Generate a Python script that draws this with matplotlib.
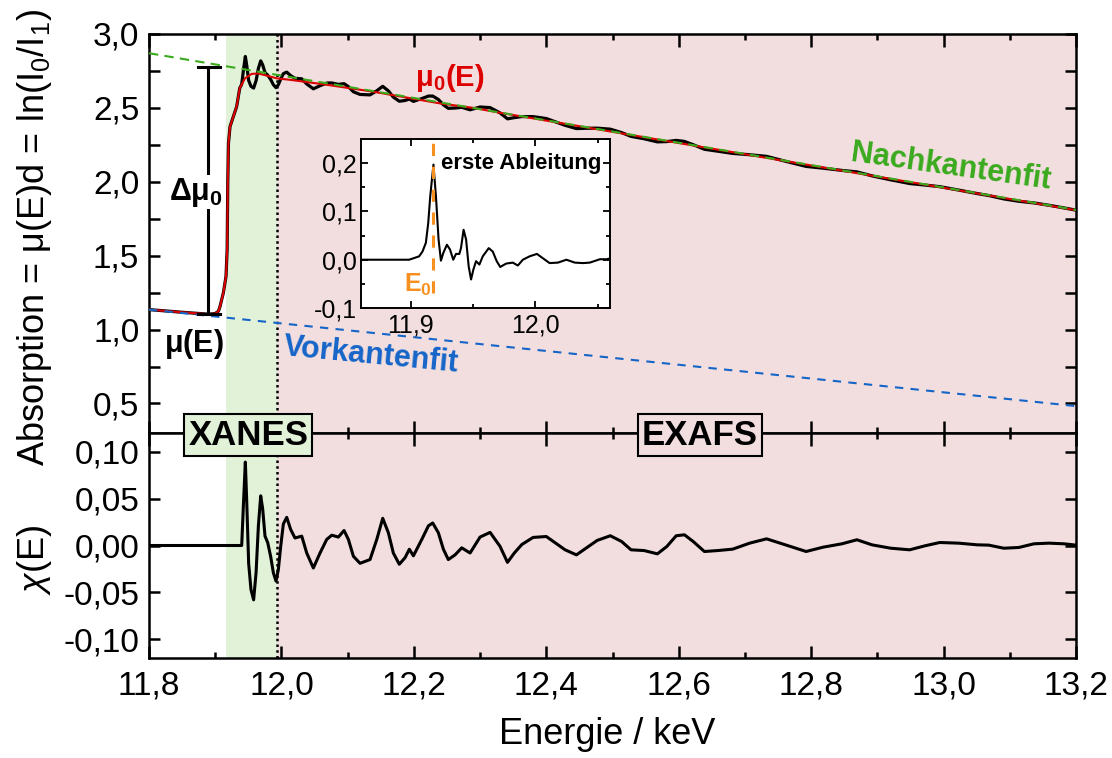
import numpy as np
import matplotlib
matplotlib.use("Agg")
import matplotlib.pyplot as plt
import matplotlib.transforms as mtransforms
from matplotlib.ticker import MultipleLocator, FuncFormatter

# ---------------- data ----------------
# measured absorption mu(E)
mu_energy = [11.80, 11.85, 11.89, 11.90, 11.905, 11.9073, 11.9123, 11.9163, 11.918, 11.919,
             11.920, 11.9224, 11.9324, 11.937, 11.940, 11.9425, 11.9455, 11.9475, 11.9505, 11.954,
             11.958, 11.9617, 11.9652, 11.9687, 11.9717, 11.9752, 11.9793, 11.9838, 11.9878, 11.9918,
             11.9953, 11.9989, 12.0029, 12.008, 12.014, 12.0205, 12.0307, 12.0382, 12.0482, 12.0583,
             12.0684, 12.076, 12.086, 12.0946, 12.1011, 12.1087, 12.1187, 12.1338, 12.144, 12.153,
             12.1615, 12.169, 12.178, 12.1867, 12.1932, 12.1993, 12.212, 12.222, 12.2285, 12.237,
             12.2446, 12.252, 12.2622, 12.2723, 12.2849, 12.300, 12.3151, 12.3302, 12.3414, 12.3517,
             12.363, 12.380, 12.400, 12.4142, 12.4284, 12.4455, 12.4597, 12.4768, 12.4967, 12.5137,
             12.528, 12.5478, 12.5678, 12.582, 12.5962, 12.6087, 12.6218, 12.6388, 12.6587, 12.6815,
             12.7071, 12.7327, 12.7611, 12.7924, 12.818, 12.8464, 12.8691, 12.8919, 12.9203, 12.9488,
             12.9715, 12.9943, 13.0227, 13.0511, 13.0682, 13.091, 13.1137, 13.1364, 13.1592, 13.182,
             13.200]
mu_abs = [1.135, 1.117, 1.104, 1.108, 1.125, 1.157, 1.248, 1.36, 1.54, 2.0,
          2.26, 2.374, 2.509, 2.633, 2.66, 2.751, 2.848, 2.790, 2.686, 2.646,
          2.634, 2.684, 2.767, 2.818, 2.791, 2.739, 2.721, 2.692, 2.657, 2.637,
          2.656, 2.695, 2.732, 2.742, 2.718, 2.70, 2.697, 2.662, 2.629, 2.65,
          2.668, 2.669, 2.659, 2.664, 2.644, 2.609, 2.591, 2.588, 2.616, 2.646,
          2.615, 2.573, 2.545, 2.55, 2.56, 2.544, 2.563, 2.58, 2.58, 2.557,
          2.521, 2.497, 2.499, 2.504, 2.487, 2.506, 2.502, 2.466, 2.426, 2.434,
          2.441, 2.441, 2.428, 2.405, 2.382, 2.360, 2.362, 2.363, 2.356, 2.333,
          2.307, 2.291, 2.270, 2.272, 2.280, 2.273, 2.251, 2.220, 2.207, 2.192,
          2.183, 2.172, 2.139, 2.104, 2.092, 2.077, 2.067, 2.040, 2.013, 1.988,
          1.978, 1.967, 1.944, 1.920, 1.907, 1.884, 1.868, 1.857, 1.841, 1.823,
          1.808]

# smooth atomic background mu0(E)
mu0_energy = [11.80, 11.85, 11.89, 11.90, 11.905, 11.9073, 11.9123, 11.9163, 11.918, 11.919,
              11.920, 11.9224, 11.9324, 11.937, 11.945, 11.955, 11.965, 11.978, 11.993, 12.013,
              12.063, 12.138, 12.189, 12.24, 12.29, 12.33, 12.6, 12.9, 13.2]
mu0_abs = [1.135, 1.117, 1.104, 1.108, 1.125, 1.157, 1.248, 1.36, 1.54, 2.0,
           2.26, 2.374, 2.509, 2.633, 2.70, 2.73, 2.733, 2.718, 2.70, 2.69,
           2.66, 2.61, 2.57, 2.53, 2.50, 2.467, 2.262, 2.035, 1.808]

# pre-edge and post-edge line fits
pre_edge_energy = [11.8, 13.2]
pre_edge_abs = [1.135, 0.482]
post_edge_energy = [11.8, 13.2]
post_edge_abs = [2.87, 1.81]

# EXAFS oscillations chi(E)
chi_energy = [11.80, 11.940, 11.9425, 11.9455, 11.9475, 11.9505, 11.954, 11.958, 11.9617, 11.9652,
              11.9687, 11.9717, 11.9752, 11.9793, 11.9838, 11.9878, 11.9918, 11.9953, 11.9989, 12.0029,
              12.008, 12.014, 12.0205, 12.0307, 12.0382, 12.0482, 12.0583, 12.0684, 12.076, 12.086,
              12.0946, 12.1011, 12.1087, 12.1187, 12.1338, 12.144, 12.153, 12.1615, 12.169, 12.178,
              12.1867, 12.1932, 12.1993, 12.212, 12.222, 12.2285, 12.237, 12.2446, 12.252, 12.2622,
              12.2723, 12.2849, 12.300, 12.3151, 12.3302, 12.3414, 12.3517, 12.363, 12.380, 12.400,
              12.4142, 12.4284, 12.4455, 12.4597, 12.4768, 12.4967, 12.5137, 12.528, 12.5478, 12.5678,
              12.582, 12.5962, 12.6087, 12.6218, 12.6388, 12.6587, 12.6815, 12.7071, 12.7327, 12.7611,
              12.7924, 12.818, 12.8464, 12.8691, 12.8919, 12.9203, 12.9488, 12.9715, 12.9943, 13.0227,
              13.0511, 13.0682, 13.091, 13.1137, 13.1364, 13.1592, 13.182, 13.200]
chi_values = [0.0, 0.0, 0.042, 0.089, 0.049, -0.019, -0.047, -0.058, -0.029, 0.021,
              0.053, 0.039, 0.010, 0.003, -0.012, -0.029, -0.038, -0.026, -0.001, 0.023,
              0.030, 0.017, 0.008, 0.010, -0.008, -0.024, -0.008, 0.0065, 0.011, 0.009,
              0.016, 0.0065, -0.0115, -0.019, -0.015, 0.0065, 0.029, 0.0136, -0.008, -0.020,
              -0.013, -0.004, -0.011, 0.0065, 0.021, 0.024, 0.0136, -0.004, -0.015, -0.010,
              -0.0025, -0.008, 0.009, 0.014, -0.001, -0.018, -0.008, 0.001, 0.0086, 0.0096,
              0.0025, -0.0046, -0.010, -0.003, 0.0054, 0.0104, 0.0043, -0.0046, -0.0054, -0.0089,
              -0.0011, 0.0104, 0.0114, 0.0043, -0.0064, -0.0054, -0.0039, 0.0025, 0.0071, 0.0007,
              -0.0064, -0.0018, 0.0018, 0.0061, 0.0007, -0.0029, -0.0046, -0.0004, 0.0032, 0.0025,
              0.0007, 0.0004, -0.0029, -0.0021, 0.0018, 0.0025, 0.0018, 0.0004]

# first derivative of mu(E) around the edge
deriv_energy = [11.8597, 11.8987, 11.9067, 11.9094, 11.9121, 11.914, 11.9156, 11.9182, 11.9202, 11.9223,
                11.9242, 11.9261, 11.929, 11.9315, 11.9341, 11.9363, 11.939, 11.9403, 11.9424, 11.9444,
                11.9465, 11.9484, 11.9502, 11.9524, 11.9551, 11.9578, 11.9626, 11.9658, 11.969, 11.9718,
                11.9766, 11.9819, 11.986, 11.99, 11.9954, 12.0013, 12.0061, 12.0115, 12.0182, 12.025,
                12.0317, 12.0384, 12.0438, 12.0519, 12.0573, 12.0605]
deriv_values = [0.0, 0.0, 0.007, 0.017, 0.035, 0.076, 0.131, 0.197, 0.131, 0.042,
                -0.002, 0.014, 0.031, 0.021, 0.0, 0.012, 0.012, 0.024, 0.062, 0.042,
                -0.014, -0.041, -0.021, -0.003, -0.010, 0.007, 0.024, 0.017, -0.003, -0.015,
                -0.008, -0.006, -0.012, 0.0, 0.007, 0.012, 0.003, -0.007, -0.006, 0.0,
                -0.006, -0.007, -0.006, 0.001, 0.001, 0.003]

edge_energy = 11.918            # E0
xanes_range = (11.917, 11.993)
exafs_range = (11.993, 13.2)
step_energy = 11.8896           # position of the edge-step bracket
step_low, step_high = 1.106, 2.779

# ---------------- style ----------------
plt.rcParams['font.family'] = ['Liberation Sans', 'DejaVu Sans']
plt.rcParams['mathtext.fontset'] = 'custom'
plt.rcParams['mathtext.rm'] = 'Liberation Sans'
plt.rcParams['mathtext.it'] = 'Liberation Sans:italic'
plt.rcParams['mathtext.bf'] = 'Liberation Sans:bold'

GREEN_BG = '#e1f2d9'
PINK_BG = '#f2dede'
RED = '#dd0000'
GREEN = '#3aaa1e'
BLUE = '#1565c8'
ORANGE = '#f7901e'
SPINE_W = 1.8


def comma_fmt(fmt):
    def f(v, pos):
        if abs(v) < 1e-9:
            v = 0.0
        return (fmt % v).replace('.', ',')
    return FuncFormatter(f)


fig = plt.figure(figsize=(11.12, 7.58), dpi=100)
W, H = 1112.0, 758.0
x0, x1 = 149 / W, 1076 / W
ax = fig.add_axes([x0, 1 - 433 / H, x1 - x0, (433 - 34) / H])
axb = fig.add_axes([x0, 1 - 658 / H, x1 - x0, (658 - 433) / H])

for a in (ax, axb):
    a.set_xlim(11.8, 13.2)
    a.axvspan(*xanes_range, color=GREEN_BG, zorder=0, lw=0)
    a.axvspan(*exafs_range, color=PINK_BG, zorder=0, lw=0)
    a.axvline(xanes_range[1], color='black', lw=1.8, ls=(0, (1, 1.3)), zorder=1)
    a.xaxis.set_major_locator(MultipleLocator(0.2))
    a.xaxis.set_minor_locator(MultipleLocator(0.1))
    a.tick_params(which='both', direction='in', top=True, right=True, width=SPINE_W)
    a.tick_params(axis='x', which='major', length=9)
    a.tick_params(axis='x', which='minor', length=4.5)
    a.tick_params(axis='y', which='both', length=8, labelsize=24, pad=7)
    for s in a.spines.values():
        s.set_linewidth(SPINE_W)

# ---- upper panel: absorption ----
ax.set_ylim(0.3, 3.0)
ax.yaxis.set_major_locator(MultipleLocator(0.5))
ax.yaxis.set_minor_locator(MultipleLocator(0.25))
ax.yaxis.set_major_formatter(comma_fmt('%.1f'))
ax.tick_params(axis='x', labelbottom=False)

ax.plot(mu_energy, mu_abs, color='black', lw=2.3, zorder=3, solid_joinstyle='round')
ax.plot(mu0_energy, mu0_abs, color=RED, lw=1.5, zorder=4)
ax.plot(post_edge_energy, post_edge_abs, color=GREEN, lw=1.5, ls=(0, (4.5, 3)), zorder=5)
ax.plot(pre_edge_energy, pre_edge_abs, color=BLUE, lw=1.5, ls=(0, (4, 3.5)), zorder=5)

# edge-step bracket
ax.plot([step_energy, step_energy], [step_low, step_high], color='black', lw=2.2, zorder=6)
ax.plot([11.8745, 11.9073], [step_high, step_high], color='black', lw=2.2, zorder=6)
ax.plot([11.8745, 11.9073], [step_low, step_low], color='black', lw=2.2, zorder=6)
ax.text(11.871, 1.93, r'$\mathbf{\Delta\mu_0}$', fontsize=22, ha='center', va='center',
        zorder=7, bbox=dict(fc='white', ec='none', pad=0.5))
ax.text(11.868, 0.905, r'$\mathbf{\mu(E)}$', fontsize=22, ha='center', va='center', zorder=7)
ax.text(12.2547, 2.70, r'$\mathbf{\mu_0(E)}$', fontsize=21, color=RED,
        ha='center', va='center', zorder=7)
ax.text(13.0115, 2.10, 'Nachkantenfit', fontsize=22, fontweight='bold', color=GREEN,
        rotation=-8, rotation_mode='anchor', ha='center', va='center', zorder=7)
ax.text(12.135, 0.824, 'Vorkantenfit', fontsize=22, fontweight='bold', color=BLUE,
        rotation=-5.5, rotation_mode='anchor', ha='center', va='center', zorder=7)

# ---- lower panel: chi(E) ----
axb.set_ylim(-0.12, 0.12)
axb.yaxis.set_major_locator(MultipleLocator(0.05))
axb.yaxis.set_major_formatter(comma_fmt('%.2f'))
axb.xaxis.set_major_formatter(comma_fmt('%.1f'))
axb.tick_params(axis='x', labelsize=24, pad=9)
axb.plot(chi_energy, chi_values, color='black', lw=2.2, zorder=3, solid_joinstyle='round')

trans = mtransforms.blended_transform_factory(axb.transData, axb.transAxes)
axb.text(11.9499, 0.991, 'XANES', transform=trans, fontsize=25, fontweight='bold',
         ha='center', va='center', zorder=10, clip_on=False,
         bbox=dict(boxstyle='square,pad=0.12', fc=GREEN_BG, ec='black', lw=1.5))
axb.text(12.6323, 0.991, 'EXAFS', transform=trans, fontsize=25, fontweight='bold',
         ha='center', va='center', zorder=10, clip_on=False,
         bbox=dict(boxstyle='square,pad=0.12', fc=PINK_BG, ec='black', lw=1.5))

# ---- inset: first derivative ----
axi = fig.add_axes([361 / W, 1 - 308 / H, (610 - 361) / W, (308 - 139) / H])
axi.set_facecolor('white')
axi.set_xlim(11.86, 12.06)
axi.set_ylim(-0.1, 0.25)
axi.xaxis.set_major_locator(MultipleLocator(0.1))
axi.xaxis.set_minor_locator(MultipleLocator(0.05))
axi.yaxis.set_major_locator(MultipleLocator(0.1))
axi.yaxis.set_minor_locator(MultipleLocator(0.05))
axi.xaxis.set_major_formatter(comma_fmt('%.1f'))
axi.yaxis.set_major_formatter(comma_fmt('%.1f'))
axi.tick_params(which='both', direction='in', top=True, right=True, width=1.3)
axi.tick_params(which='major', length=5)
axi.tick_params(which='minor', length=3)
axi.tick_params(axis='y', labelsize=18, pad=3)
axi.tick_params(axis='x', labelsize=18, pad=4)
for s in axi.spines.values():
    s.set_linewidth(1.4)
axi.plot(deriv_energy, deriv_values, color='black', lw=1.5, zorder=3)
axi.plot([edge_energy, edge_energy], [-0.068, 0.25], color=ORANGE, lw=2.2,
         ls=(0, (4, 3.5)), zorder=4)
axi.text(11.924, 0.2, 'erste Ableitung', fontsize=16, fontweight='bold',
         ha='left', va='center', zorder=5)
axi.text(11.8946, -0.052, r'$\mathbf{E_0}$', fontsize=18, color=ORANGE,
         ha='left', va='center', zorder=5)

# ---- axis titles ----
fig.text(607 / W, 1 - 735 / H, 'Energie / keV', fontsize=26, ha='center', va='center')
fig.text(35 / W, 1 - 237 / H, r'Absorption = μ(E)d = ln(I$_\mathrm{0}$/I$_\mathrm{1}$)',
         fontsize=26, rotation=90, ha='center', va='center')
fig.text(35 / W, 1 - 560 / H, r'$\chi$(E)', fontsize=26, rotation=90,
         ha='center', va='center')

fig.savefig('out.png', dpi=100)
